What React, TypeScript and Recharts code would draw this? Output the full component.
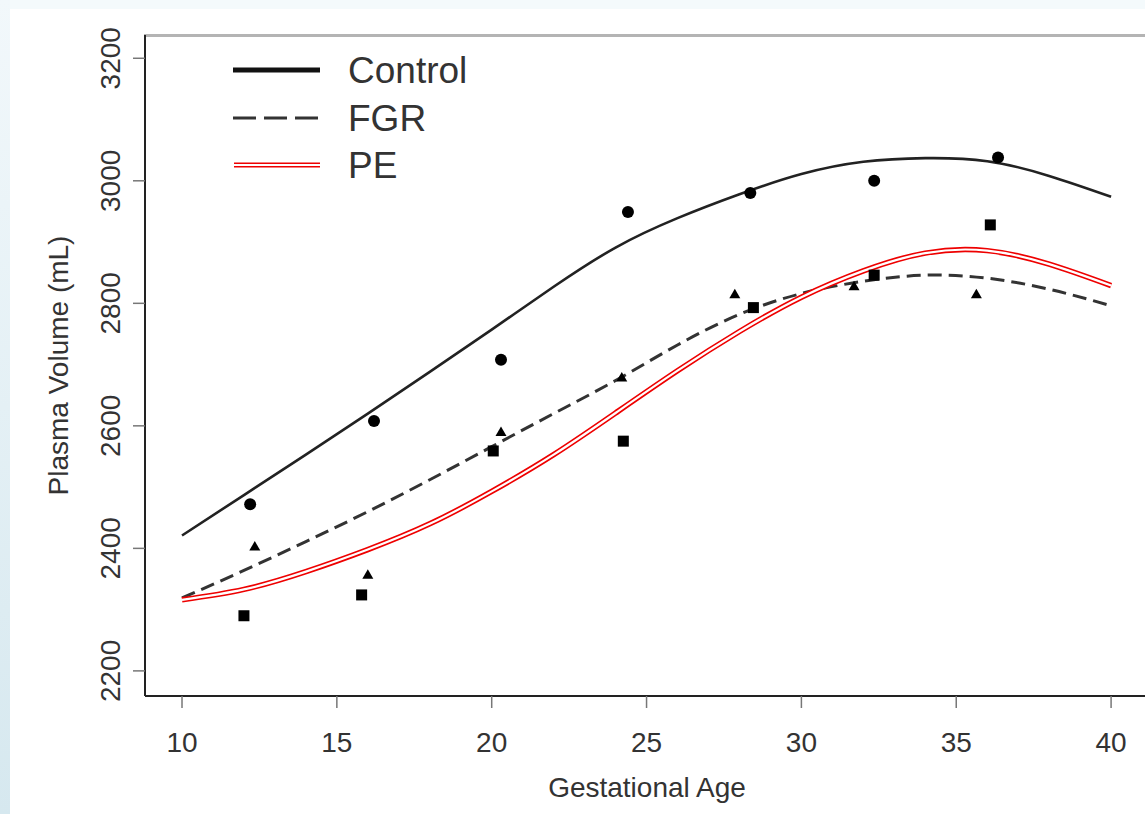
import React from "react";
import { ComposedChart, Line, Scatter, XAxis, YAxis } from "recharts";

const FONT = '"Liberation Sans", Arial, Helvetica, sans-serif';
const TEXT = "#333";

const AGES = [10, 12, 14, 16, 18, 20, 22, 24, 26, 28, 30, 32, 34, 36, 38, 40];
const CONTROL_FIT = [2421, 2487, 2553, 2620, 2688, 2757, 2827, 2891, 2939, 2978, 3011, 3031, 3037, 3032, 3008, 2974];
const FGR_FIT = [2319, 2364, 2411, 2460, 2512, 2566, 2620, 2674, 2732, 2782, 2816, 2836, 2846, 2841, 2823, 2796];
const PE_FIT = [2316, 2333, 2362, 2398, 2440, 2493, 2553, 2621, 2690, 2754, 2810, 2853, 2882, 2886, 2864, 2829];

// observed group means
const CONTROL_AGE = [12.2, 16.2, 20.3, 24.4, 28.35, 32.35, 36.35];
const CONTROL_PV = [2472, 2608, 2708, 2949, 2980, 3000, 3038];
const FGR_AGE = [12.35, 16.0, 20.3, 24.2, 27.85, 31.7, 35.65];
const FGR_PV = [2403, 2357, 2590, 2679, 2815, 2828, 2815];
const PE_AGE = [12.0, 15.8, 20.05, 24.25, 28.45, 32.35, 36.1];
const PE_PV = [2290, 2324, 2559, 2575, 2793, 2846, 2928];

const X_TICKS = [10, 15, 20, 25, 30, 35, 40];
const Y_TICKS = [2200, 2400, 2600, 2800, 3000, 3200];
const X_DOMAIN = [8.805, 41.095];
const Y_DOMAIN = [2159, 3238];

const LEGEND = ["Control", "FGR", "PE"];

const toPoints = (xs: number[], ys: number[]) => xs.map((x, i) => ({ x, y: ys[i] }));

const controlFit = toPoints(AGES, CONTROL_FIT);
const fgrFit = toPoints(AGES, FGR_FIT);
const peFit = toPoints(AGES, PE_FIT);
const controlPts = toPoints(CONTROL_AGE, CONTROL_PV);
const fgrPts = toPoints(FGR_AGE, FGR_PV);
const pePts = toPoints(PE_AGE, PE_PV);

const XTick = (props: any) => {
  const { x, y, payload } = props;
  return (
    <text x={x} y={y + 44} textAnchor="middle" fontSize={28} fill={TEXT} fontFamily={FONT}>
      {payload.value}
    </text>
  );
};

const YTick = (props: any) => {
  const { x, y, payload } = props;
  const bx = x - 13;
  return (
    <text
      x={bx}
      y={y}
      transform={`rotate(-90 ${bx} ${y})`}
      textAnchor="middle"
      fontSize={28}
      fill={TEXT}
      fontFamily={FONT}
    >
      {payload.value}
    </text>
  );
};

const circle = (p: any) => <circle cx={p.cx} cy={p.cy} r={6} fill="#000" />;
const square = (p: any) => <rect x={p.cx - 5.5} y={p.cy - 5.5} width={11} height={11} fill="#000" />;
const triangle = (p: any) => (
  <polygon
    points={`${p.cx},${p.cy - 5.5} ${p.cx - 5.5},${p.cy + 4} ${p.cx + 5.5},${p.cy + 4}`}
    fill="#000"
  />
);

// legend drawn over the plot
function LegendBox() {
  const rows = [70, 118, 165];
  return (
    <svg width={520} height={200} style={{ position: "absolute", left: 0, top: 0, pointerEvents: "none" }}>
      <line x1={233} x2={320} y1={rows[0]} y2={rows[0]} stroke="#111" strokeWidth={5} />
      <line x1={233} x2={320} y1={rows[1]} y2={rows[1]} stroke="#333" strokeWidth={3} strokeDasharray="23 8" />
      <line x1={234} x2={320} y1={rows[2]} y2={rows[2]} stroke="#e00" strokeWidth={5} />
      <line x1={234} x2={320} y1={rows[2]} y2={rows[2]} stroke="#fff" strokeWidth={2} />
      {LEGEND.map((t, i) => (
        <text key={t} x={348} y={rows[i] + 13} fontSize={37} fill={TEXT} fontFamily={FONT}>
          {t}
        </text>
      ))}
    </svg>
  );
}

export default function App() {
  return (
    <div
      style={{
        position: "fixed",
        left: 0,
        top: 0,
        width: 1145,
        height: 814,
        overflow: "hidden",
        background: "#f4fafc",
      }}
    >
      <div
        style={{
          position: "absolute",
          left: 0,
          top: 0,
          width: 10,
          height: 814,
          background: "linear-gradient(#f2f8fb, #d6e8ef)",
        }}
      />
      <div style={{ position: "absolute", left: 10, top: 9, right: 0, bottom: 0, background: "#fff" }} />
      {/* top edge of the plot box */}
      <div
        style={{
          position: "absolute",
          left: 144,
          top: 34,
          width: 1001,
          height: 0,
          borderTop: "3px solid #b4b4b4",
        }}
      />
      <div style={{ position: "absolute", left: 0, top: 0 }}>
        <ComposedChart width={1145} height={814} margin={{ top: 35, right: 0, bottom: 0, left: 0 }}>
          <XAxis
            type="number"
            dataKey="x"
            domain={X_DOMAIN}
            ticks={X_TICKS}
            allowDataOverflow
            height={118}
            tickSize={12}
            tickMargin={0}
            tick={<XTick />}
            tickLine={{ stroke: "#777", strokeWidth: 1.5 }}
            axisLine={{ stroke: "#222", strokeWidth: 2 }}
            label={(p: any) => (
              <text
                x={p.viewBox ? p.viewBox.x + p.viewBox.width / 2 + 2 : 647}
                y={797}
                textAnchor="middle"
                fontSize={28}
                fill={TEXT}
                fontFamily={FONT}
              >
                Gestational Age
              </text>
            )}
          />
          <YAxis
            type="number"
            dataKey="y"
            domain={Y_DOMAIN}
            ticks={Y_TICKS}
            allowDataOverflow
            width={145}
            tickSize={12}
            tickMargin={0}
            tick={<YTick />}
            tickLine={{ stroke: "#777", strokeWidth: 1.5 }}
            axisLine={{ stroke: "#222", strokeWidth: 2 }}
            label={(p: any) => {
              const cy = p.viewBox ? p.viewBox.y + p.viewBox.height / 2 : 365;
              return (
                <text
                  x={68}
                  y={cy}
                  transform={`rotate(-90 68 ${cy})`}
                  textAnchor="middle"
                  fontSize={28}
                  fill={TEXT}
                  fontFamily={FONT}
                >
                  Plasma Volume (mL)
                </text>
              );
            }}
          />
          <Line
            data={controlFit}
            dataKey="y"
            type="natural"
            stroke="#222"
            strokeWidth={2.6}
            dot={false}
            activeDot={false}
            isAnimationActive={false}
          />
          <Line
            data={fgrFit}
            dataKey="y"
            type="natural"
            stroke="#333"
            strokeWidth={3}
            strokeDasharray="14 7"
            dot={false}
            activeDot={false}
            isAnimationActive={false}
          />
          <Line
            data={peFit}
            dataKey="y"
            type="natural"
            stroke="#e00"
            strokeWidth={5.5}
            dot={false}
            activeDot={false}
            isAnimationActive={false}
          />
          <Line
            data={peFit}
            dataKey="y"
            type="natural"
            stroke="#fff"
            strokeWidth={2.2}
            dot={false}
            activeDot={false}
            isAnimationActive={false}
          />
          <Scatter data={controlPts} dataKey="y" shape={circle} isAnimationActive={false} />
          <Scatter data={fgrPts} dataKey="y" shape={triangle} isAnimationActive={false} />
          <Scatter data={pePts} dataKey="y" shape={square} isAnimationActive={false} />
        </ComposedChart>
      </div>
      <LegendBox />
    </div>
  );
}
